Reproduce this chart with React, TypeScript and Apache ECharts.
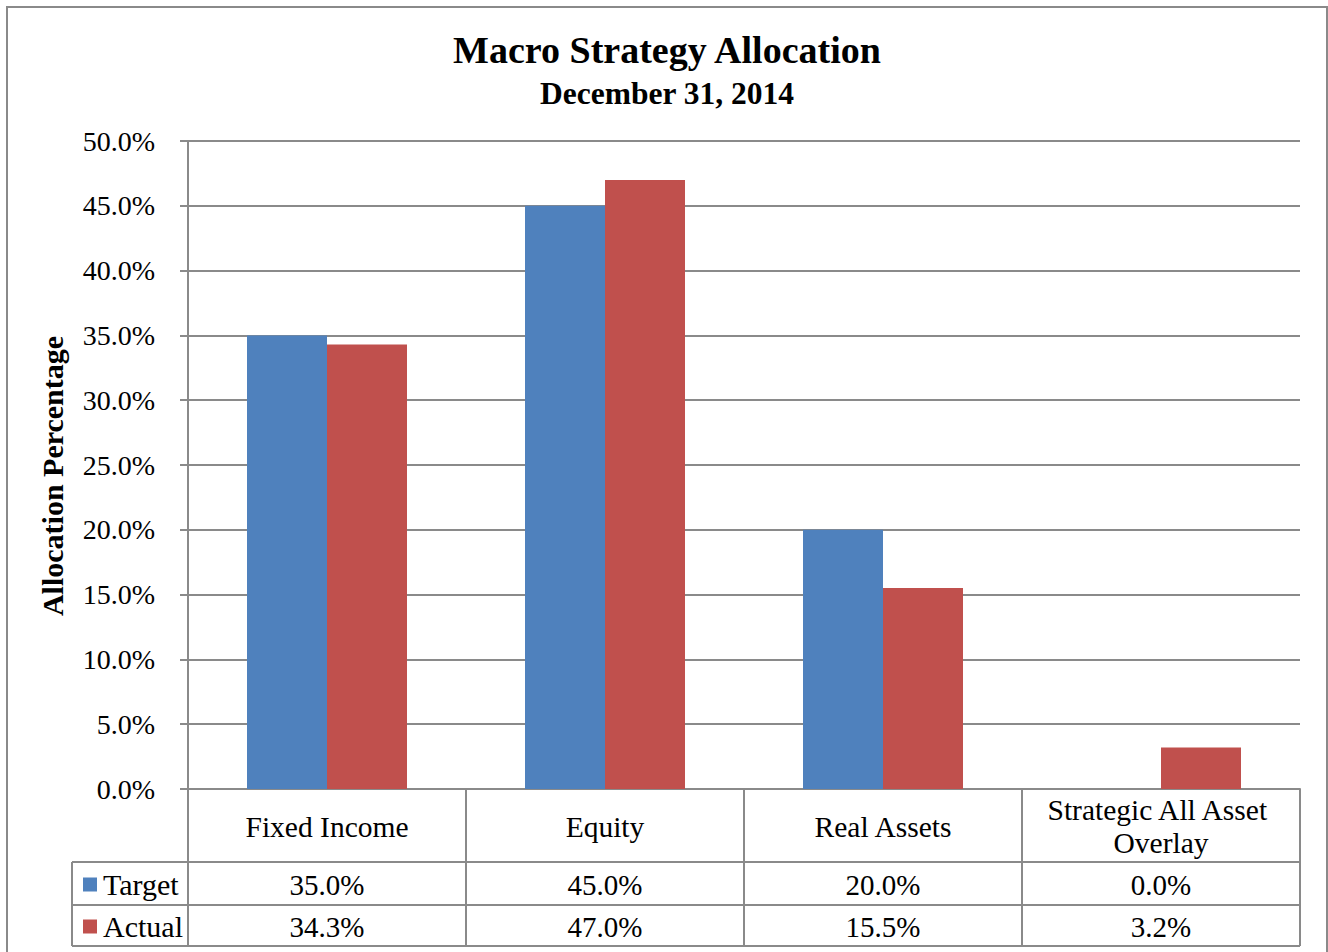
import React, { useEffect, useRef } from "react";
import * as echarts from "echarts";

const TITLE = "Macro Strategy Allocation";
const SUBTITLE = "December 31, 2014";
const Y_NAME = "Allocation Percentage";
const categories = ["Fixed Income", "Equity", "Real Assets", "Strategic All Asset Overlay"];
const seriesNames = ["Target", "Actual"];
const targetValues = [35.0, 45.0, 20.0, 0.0];
const actualValues = [34.3, 47.0, 15.5, 3.2];
const colors = ["#4F81BD", "#C0504D"];

const W = 1328;
const H = 952;
const GRID_LEFT = 188;
const GRID_RIGHT = 1300;
const GRID_TOP = 141;
const GRID_BOTTOM = 789;
const ROW1 = 862;
const ROW2 = 905;
const ROW3 = 946;
const TABLE_LEFT = 72;
const FONT = "'Liberation Serif', 'Times New Roman', serif";
const LINE = "#8a8a8a";

export default function App() {
  const ref = useRef<HTMLDivElement>(null);
  useEffect(() => {
    if (!ref.current) return;
    const chart = echarts.init(ref.current, null, { renderer: "svg" });
    const colW = (GRID_RIGHT - GRID_LEFT) / categories.length;
    const graphics: any[] = [];
    // outer border
    graphics.push({
      type: "rect",
      shape: { x: 7, y: 7, width: 1320, height: 960 },
      style: { fill: "none", stroke: LINE, lineWidth: 2 },
      silent: true,
    });
    // titles
    graphics.push({
      type: "text",
      style: { text: TITLE, x: 667, y: 50, align: "center", verticalAlign: "middle", fontFamily: FONT, fontSize: 38, fontWeight: "bold", fill: "#000" },
    });
    graphics.push({
      type: "text",
      style: { text: SUBTITLE, x: 667, y: 93, align: "center", verticalAlign: "middle", fontFamily: FONT, fontSize: 31.5, fontWeight: "bold", fill: "#000" },
    });
    // y axis name
    graphics.push({
      type: "text",
      x: 52,
      y: 476,
      rotation: Math.PI / 2,
      style: { text: Y_NAME, x: 0, y: 0, align: "center", verticalAlign: "middle", fontFamily: FONT, fontSize: 30, fontWeight: "bold", fill: "#000" },
    });
    // table lines
    const hLine = (x1: number, x2: number, y: number) =>
      graphics.push({ type: "line", shape: { x1, y1: y, x2, y2: y }, style: { stroke: LINE, lineWidth: 2 }, silent: true });
    const vLine = (x: number, y1: number, y2: number) =>
      graphics.push({ type: "line", shape: { x1: x, y1, x2: x, y2 }, style: { stroke: LINE, lineWidth: 2 }, silent: true });
    hLine(TABLE_LEFT, GRID_RIGHT, ROW1);
    hLine(TABLE_LEFT, GRID_RIGHT, ROW2);
    hLine(TABLE_LEFT, GRID_RIGHT, ROW3);
    vLine(TABLE_LEFT, ROW1, ROW3);
    vLine(GRID_LEFT, GRID_BOTTOM, ROW3);
    for (let i = 1; i <= categories.length; i++) {
      vLine(GRID_LEFT + colW * i, GRID_BOTTOM, ROW3);
    }
    // header texts
    categories.forEach((c, i) => {
      graphics.push({
        type: "text",
        style: {
          text: c,
          x: GRID_LEFT + colW * (i + 0.5),
          y: (GRID_BOTTOM + ROW1) / 2 + 1,
          align: "center",
          verticalAlign: "middle",
          width: 250,
          overflow: "break",
          lineHeight: 33,
          fontFamily: FONT,
          fontSize: 29.5,
          fill: "#000",
        },
      });
    });
    // rows
    const rows = [targetValues, actualValues];
    const rowTops = [ROW1, ROW2];
    const rowBots = [ROW2, ROW3];
    rows.forEach((vals, r) => {
      const cy = (rowTops[r] + rowBots[r]) / 2 + 1;
      graphics.push({
        type: "rect",
        shape: { x: 83, y: cy - 7, width: 14, height: 14 },
        style: { fill: colors[r] },
      });
      graphics.push({
        type: "text",
        style: { text: seriesNames[r], x: 103, y: cy, align: "left", verticalAlign: "middle", fontFamily: FONT, fontSize: 30, fill: "#000" },
      });
      vals.forEach((v, i) => {
        graphics.push({
          type: "text",
          style: {
            text: v.toFixed(1) + "%",
            x: GRID_LEFT + colW * (i + 0.5),
            y: cy,
            align: "center",
            verticalAlign: "middle",
            fontFamily: FONT,
            fontSize: 29,
            fill: "#000",
          },
        });
      });
    });

    chart.setOption({
      animation: false,
      textStyle: { fontFamily: FONT },
      grid: { left: GRID_LEFT, right: W - GRID_RIGHT, top: GRID_TOP, bottom: H - GRID_BOTTOM, containLabel: false },
      xAxis: {
        type: "category",
        data: categories,
        axisLine: { show: true, lineStyle: { color: LINE, width: 2 } },
        axisTick: { show: false },
        axisLabel: { show: false },
        splitLine: { show: false },
      },
      yAxis: {
        type: "value",
        min: 0,
        max: 50,
        interval: 5,
        axisLine: { show: true, lineStyle: { color: LINE, width: 2 } },
        axisTick: { show: true, length: 8, lineStyle: { color: LINE, width: 2 } },
        axisLabel: {
          margin: 33,
          formatter: (v: number) => v.toFixed(1) + "%",
          fontFamily: FONT,
          fontSize: 28,
          color: "#000",
        },
        splitLine: { show: true, lineStyle: { color: LINE, width: 2 } },
      },
      series: [
        {
          name: seriesNames[0],
          type: "bar",
          data: targetValues,
          barWidth: 80,
          barGap: "0%",
          itemStyle: { color: colors[0] },
        },
        {
          name: seriesNames[1],
          type: "bar",
          data: actualValues,
          barWidth: 80,
          barGap: "0%",
          itemStyle: { color: colors[1] },
        },
      ],
      graphic: graphics,
    });
    return () => chart.dispose();
  }, []);
  return (
    <div
      ref={ref}
      style={{ position: "absolute", left: 0, top: 0, width: W, height: H, background: "#fff" }}
    />
  );
}
